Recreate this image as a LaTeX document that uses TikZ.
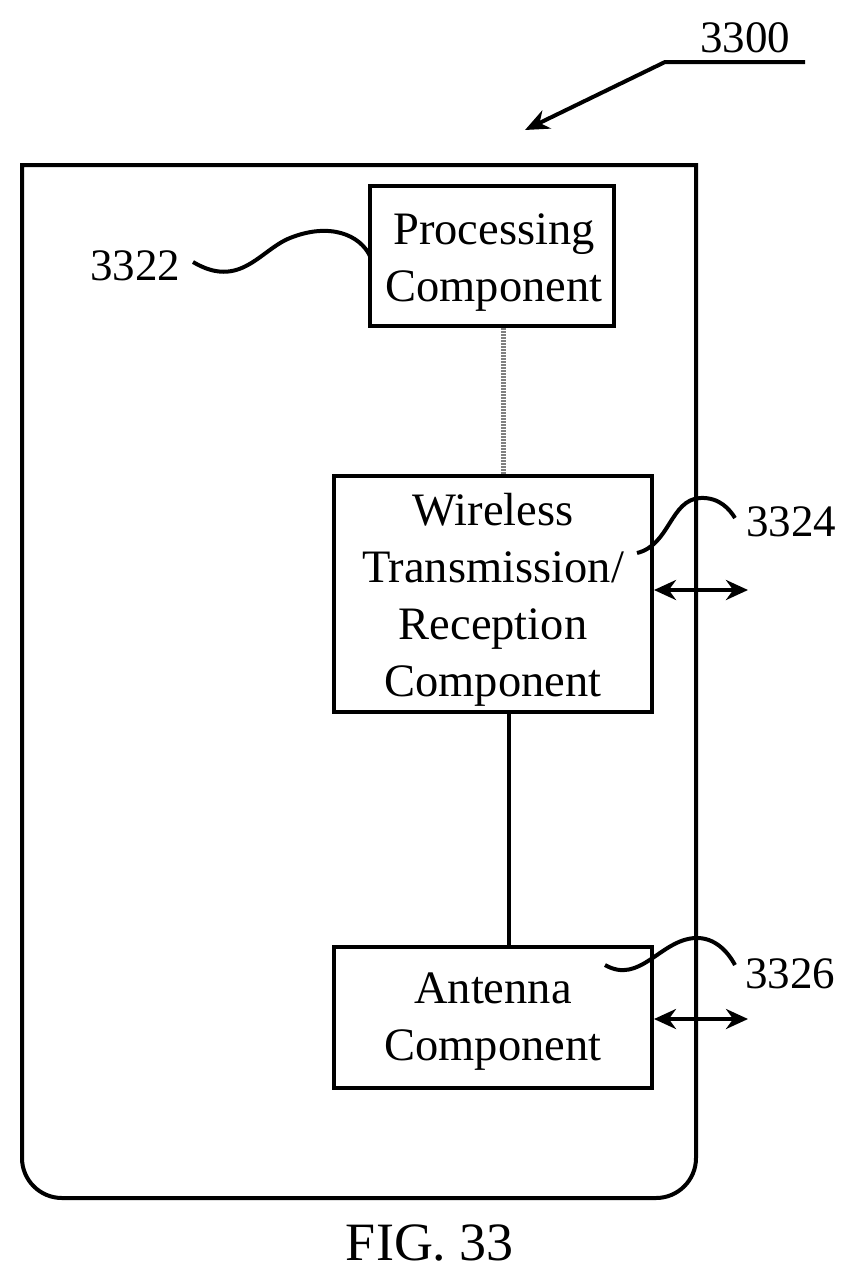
\documentclass[tikz,border=0pt]{standalone}
\usepackage{fontspec}
\setmainfont{Liberation Serif}
\usetikzlibrary{arrows.meta}
\begin{document}
\begin{tikzpicture}[x=1pt,y=-1pt,
  box/.style={draw,line width=4pt,inner sep=0pt},
  txt/.style={align=center,inner sep=0pt,font=\fontsize{46.5}{57}\selectfont},
  lab/.style={font=\fontsize{45}{50}\selectfont,inner sep=0pt},
  ln/.style={line width=4pt},
  arr/.style={line width=4pt,{Stealth[length=22pt,width=20pt]}-{Stealth[length=22pt,width=20pt]}}]
\useasboundingbox (0,0) rectangle (858,1282);
\draw[ln] (22,165) -- (696,165) -- (696,1158) arc[start angle=0,end angle=90,radius=40] -- (62,1198) arc[start angle=90,end angle=180,radius=40] -- cycle;
\node[box,minimum width=244pt,minimum height=140pt] (p) at (492,256) {};
\node[txt] (pt) at (494,263) {Processing\\Component};
\node[box,minimum width=318pt,minimum height=236pt] (w) at (493,594) {};
\node[txt] (wt) at (493,600) {Wireless\\Transmission/\\Reception\\Component};
\node[box,minimum width=318pt,minimum height=141pt] (a) at (493,1017) {};
\node[txt] (at) at (493,1022) {Antenna\\Component};
\draw[line width=5pt,gray,dash pattern=on 1.5pt off 1.5pt] (p.south -| 503,0) -- (w.north -| 503,0);
\draw[ln] (w.south -| 509,0) -- (a.north -| 509,0);
\coordinate (e1) at (748,590); \coordinate (e2) at (748,1019);
\draw[arr] (w.east |- e1) -- (e1);
\draw[arr] (a.east |- e2) -- (e2);
\node[lab] (l22) at (135,266) {3322};
\node[lab] (l24) at (791,522) {3324};
\node[lab] (l26) at (790,974) {3326};
\node[lab] (l00) at (745,38) {3300};
\node[font=\fontsize{54}{60}\selectfont,inner sep=0pt] (fig) at (430,1243) {FIG. 33};
\draw[ln] (193,262) .. controls (240,290) and (260,250) .. (290,238) .. controls (330,222) and (360,235) .. (370,256);
\draw[ln] (637,553) .. controls (670,545) and (670,500) .. (700,498) .. controls (720,497) and (730,510) .. (735,518);
\draw[ln] (605,965) .. controls (640,985) and (660,940) .. (695,938) .. controls (715,937) and (728,952) .. (735,965);
\coordinate (t) at (525,130);
\draw[ln,-{Stealth[length=24pt,width=20pt]}] (805,62) -- (665,62) -- (t);
\end{tikzpicture}
\end{document}
